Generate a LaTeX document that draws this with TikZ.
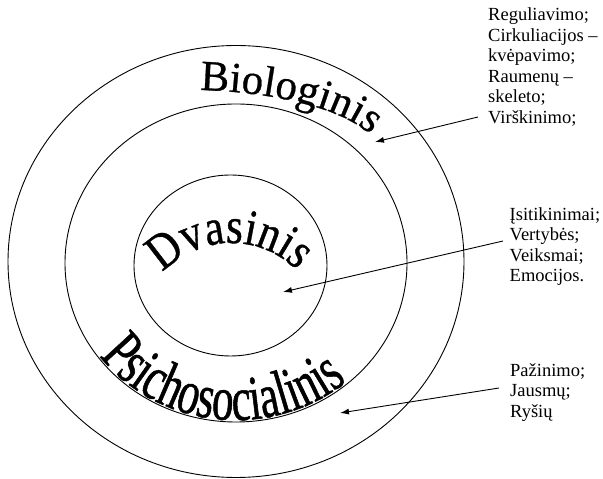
\documentclass[tikz,border=0pt]{standalone}
\usepackage{fontspec}
\setmainfont{Liberation Serif}
\newfontfamily\biofont[FakeBold=0.7]{Liberation Serif}
\newfontfamily\psfont[FakeStretch=0.68,FakeBold=0.8]{Liberation Serif}
\newfontfamily\dvfont[FakeStretch=0.84,FakeBold=0.7]{Liberation Serif}
\usetikzlibrary{decorations.text,arrows.meta}
\begin{document}
\begin{tikzpicture}[x=1pt,y=1pt,
  ring/.style={draw,line width=0.9pt},
  pointer/.style={draw,line width=0.9pt,-{Latex[length=9pt,width=6pt]}},
  listtext/.style={align=left,anchor=north west,inner sep=0pt,font=\fontsize{18.5}{20.5}\selectfont}]
\useasboundingbox (0,0) rectangle (603,479);
% rings
\draw[ring] (236,217.5) ellipse [x radius=228, y radius=216];
\draw[ring] (236,216) ellipse [x radius=171, y radius=159];
\draw[ring] (230.5,213.5) ellipse [x radius=96.5, y radius=90.5];
% curved titles
\path[decorate, decoration={text along path, text align=left,
  text={|\biofont\fontsize{43}{43}\selectfont|Biologinis}}]
  (200,389) .. controls (270,387) and (345,372) .. (375,340) -- ++(-47:40);
\path[decorate, decoration={text along path, text align=center,
  text={|\dvfont\fontsize{51}{51}\selectfont|Dvasinis}}]
  (231,143) ++(151:93) arc[start angle=151, end angle=31, radius=93];
\path[decorate, decoration={text along path, text align=center,
  text={|\psfont\fontsize{63}{63}\selectfont|Psichosocialinis}}]
  (75.6,165.8) arc[start angle=198.6, end angle=328.6, x radius=169, y radius=157];
% lists
\node[listtext] (bio) at (488,471.5) {Reguliavimo;\\Cirkuliacijos –\\kvėpavimo;\\Raumenų –\\skeleto;\\Virškinimo;};
\node[listtext] (dva) at (509.5,271.6) {Įsitikinimai;\\Vertybės;\\Veiksmai;\\Emocijos.};
\node[listtext] (psi) at (510,115.8) {Pažinimo;\\Jausmų;\\Ryšių};
% arrows
\coordinate (a1s) at (478,362);
\coordinate (a1e) at (375,337);
\coordinate (a2s) at (503,238);
\coordinate (a2e) at (283,187);
\coordinate (a3s) at (499,91);
\coordinate (a3e) at (340,66);
\draw[pointer] (a1s) -- (a1e);
\draw[pointer] (a2s) -- (a2e);
\draw[pointer] (a3s) -- (a3e);
\end{tikzpicture}
\end{document}
